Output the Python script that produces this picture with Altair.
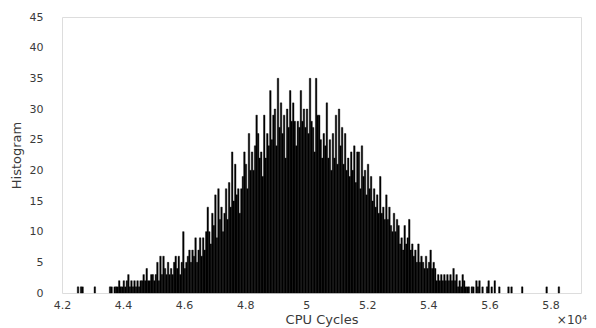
import altair as alt
import pandas as pd

# Histogram of CPU cycles (x in units of 10^4 cycles)
BIN_START = 4.25
BIN_WIDTH = 0.005

counts = (
    [1, 0, 1, 1, 0, 0, 0, 0, 0, 0, 0, 1, 0, 0, 0, 0, 0, 0, 0, 0, 0, 1, 1, 0, 1, 1, 1, 2, 1, 1]
    + [2, 1, 2, 3, 1, 2, 1, 2, 1, 2, 1, 2, 2, 3, 2, 4, 2, 2, 3, 3, 2, 3, 5, 2, 6, 3, 6, 4, 3, 5]
    + [3, 4, 3, 5, 6, 4, 6, 3, 5, 10, 4, 5, 6, 7, 5, 7, 6, 9, 5, 7, 9, 6, 9, 7, 10, 14, 10, 8, 13, 11]
    + [16, 9, 17, 12, 14, 10, 13, 17, 12, 18, 14, 23, 15, 21, 16, 17, 13, 17, 19, 23, 21, 17, 26, 20, 23, 20, 24, 29, 26, 22]
    + [23, 19, 29, 22, 26, 24, 33, 25, 29, 30, 24, 35, 27, 31, 26, 29, 22, 30, 27, 33, 28, 31, 28, 24, 28, 27, 33, 28, 30, 27]
    + [30, 26, 35, 28, 27, 23, 35, 29, 29, 25, 22, 26, 24, 31, 22, 25, 20, 26, 22, 29, 21, 30, 24, 27, 21, 26, 20, 22, 19, 23]
    + [20, 24, 18, 23, 23, 17, 24, 19, 20, 16, 21, 17, 19, 15, 17, 14, 16, 13, 19, 13, 14, 12, 16, 12, 14, 11, 10, 13, 10, 12]
    + [11, 8, 9, 7, 11, 8, 9, 12, 7, 8, 6, 7, 5, 8, 5, 6, 5, 4, 6, 4, 5, 7, 4, 5, 4, 2, 3, 2, 3, 2]
    + [3, 2, 3, 2, 3, 2, 4, 2, 3, 1, 2, 1, 3, 2, 1, 1, 1, 0, 1, 1, 0, 2, 1, 2, 0, 1, 0, 0, 1, 2]
    + [0, 1, 0, 2, 0, 0, 1, 0, 0, 0, 0, 0, 1, 0, 1, 0, 0, 0, 0, 0, 0, 1,
       0, 0, 0, 0, 0, 0, 0, 0, 0, 0, 0, 0, 0, 0, 0, 1, 0, 0, 0, 0, 0, 0, 0, 1]
)

x_ticks = [4.2, 4.4, 4.6, 4.8, 5.0, 5.2, 5.4, 5.6, 5.8]
y_ticks = [0, 5, 10, 15, 20, 25, 30, 35, 40, 45]
x_title = "CPU Cycles"
y_title = "Histogram"
exponent_label = ["×10⁴"]

starts = [round(BIN_START + i * BIN_WIDTH, 4) for i in range(len(counts))]
df = pd.DataFrame({"start": starts, "count": counts})
df["end"] = (df["start"] + BIN_WIDTH).round(4)
df = df[df["count"] > 0]

FONT = "DejaVu Sans"
TXT = "#3a3a3a"

bars = alt.Chart(df).mark_bar(color="black", stroke="black", strokeWidth=0.4).encode(
    x=alt.X(
        "start:Q",
        scale=alt.Scale(domain=[4.2, 5.9], nice=False, zero=False),
        axis=alt.Axis(
            values=x_ticks, format="~g", title=x_title, domain=False, ticks=False,
            grid=False, labelFlush=False, labelFont=FONT, labelFontSize=11,
            labelColor=TXT, labelPadding=6, titleFont=FONT, titleFontSize=13,
            titleFontWeight="normal", titleColor=TXT, titlePadding=3,
        ),
    ),
    x2="end:Q",
    y=alt.Y(
        "count:Q",
        scale=alt.Scale(domain=[0, 45], nice=False),
        axis=alt.Axis(
            values=y_ticks, title=y_title, domain=False, ticks=False, grid=False,
            labelFlush=False, labelFont=FONT, labelFontSize=11, labelColor=TXT,
            labelPadding=19, titleFont=FONT, titleFontSize=13,
            titleFontWeight="normal", titleColor=TXT, titlePadding=6,
        ),
    ),
    y2=alt.datum(0),
)

exp_text = alt.Chart(pd.DataFrame({"t": exponent_label})).mark_text(
    align="right", baseline="alphabetic", font=FONT, fontSize=12, color=TXT
).encode(x=alt.value(525), y=alt.value(307), text="t:N")

chart = (
    alt.layer(bars, exp_text)
    .properties(
        width=519,
        height=276,
        autosize=alt.AutoSizeParams(type="none"),
        padding={"left": 54, "top": 9, "right": 7, "bottom": 35},
    )
    .configure_view(stroke=None)
    .configure(background="white")
)

chart.save("out.html", embed_options={"renderer": "svg", "actions": False})
